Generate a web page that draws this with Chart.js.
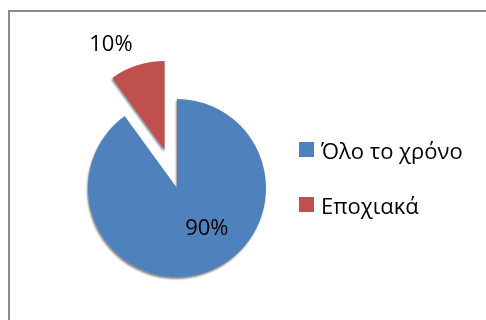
<!DOCTYPE html>
<html>
<head>
<meta charset="utf-8">
<script src="https://cdn.jsdelivr.net/npm/chart.js@4.4.1/dist/chart.umd.min.js"></script>
<style>
  html, body { margin: 0; padding: 0; background: #fff; overflow: hidden; }
  #wrap { position: relative; width: 486px; height: 320px; }
  .frame { position: absolute; left: 8px; top: 10px; width: 600px; height: 400px; border: 2px solid #8c8c8c; }
  canvas { position: absolute; left: 0; top: 0; }
  #legend { position: absolute; left: 299px; top: 139px; font-family: "Open Sans", sans-serif; font-size: 22px; color: #000; }
  #legend .item { display: flex; align-items: center; height: 21px; margin-bottom: 34px; white-space: nowrap; }
  #legend .box { width: 15px; height: 15px; margin-right: 7px; }
</style>
</head>
<body>
<div id="wrap">
  <div class="frame"></div>
  <canvas id="pieChart" width="486" height="320"></canvas>
  <div id="legend"></div>
</div>
<script>
const categories = ['Όλο το χρόνο', 'Εποχιακά'];
const shares = [90, 10];
const sliceColors = ['#4F81BD', '#C0504D'];
// distance each slice is pulled away from the centre (px)
const explode = [0, 40];
// where the % label sits: fraction of the radius, and turn from the slice middle (deg)
const labelPlacement = [{ r: 0.57, turn: -18 }, { r: 1.33, turn: -9 }];

// push exploded slices outwards along their middle angle
const explodeSlices = {
  id: 'explodeSlices',
  afterDatasetUpdate(chart, args) {
    args.meta.data.forEach((arc, i) => {
      const d = explode[i] || 0;
      if (!d) return;
      const mid = (arc.startAngle + arc.endAngle) / 2;
      arc.x += Math.cos(mid) * d;
      arc.y += Math.sin(mid) * d;
    });
  }
};

// soft drop shadow under the slices, then the percentage labels
const shadowAndLabels = {
  id: 'shadowAndLabels',
  beforeDatasetDraw(chart) {
    const ctx = chart.ctx;
    ctx.save();
    ctx.shadowColor = 'rgba(0, 0, 0, 0.45)';
    ctx.shadowBlur = 2;
    ctx.shadowOffsetX = -1;
    ctx.shadowOffsetY = 2;
  },
  afterDatasetDraw(chart, args) {
    const ctx = chart.ctx;
    ctx.restore();
    ctx.save();
    ctx.font = '22px "Open Sans"';
    ctx.fillStyle = '#000';
    ctx.textAlign = 'center';
    ctx.textBaseline = 'middle';
    args.meta.data.forEach((arc, i) => {
      const p = labelPlacement[i];
      const a = (arc.startAngle + arc.endAngle) / 2 + p.turn * Math.PI / 180;
      const r = arc.outerRadius * p.r;
      ctx.fillText(shares[i] + '%', arc.x + Math.cos(a) * r, arc.y + Math.sin(a) * r);
    });
    ctx.restore();
  }
};

const chart = new Chart(document.getElementById('pieChart'), {
  type: 'pie',
  data: {
    labels: categories,
    datasets: [{
      data: shares,
      backgroundColor: sliceColors,
      borderWidth: 0
    }]
  },
  options: {
    responsive: false,
    animation: false,
    radius: 89,
    layout: { padding: { left: 0, right: 132, top: 56, bottom: 0 } },
    plugins: {
      legend: { display: false },
      tooltip: { enabled: false }
    }
  },
  plugins: [explodeSlices, shadowAndLabels]
});

// legend to the right of the pie
const legendEl = document.getElementById('legend');
categories.forEach((name, i) => {
  const item = document.createElement('div');
  item.className = 'item';
  const box = document.createElement('span');
  box.className = 'box';
  box.style.background = sliceColors[i];
  const text = document.createElement('span');
  text.textContent = name;
  item.appendChild(box);
  item.appendChild(text);
  legendEl.appendChild(item);
});
</script>
</body>
</html>
